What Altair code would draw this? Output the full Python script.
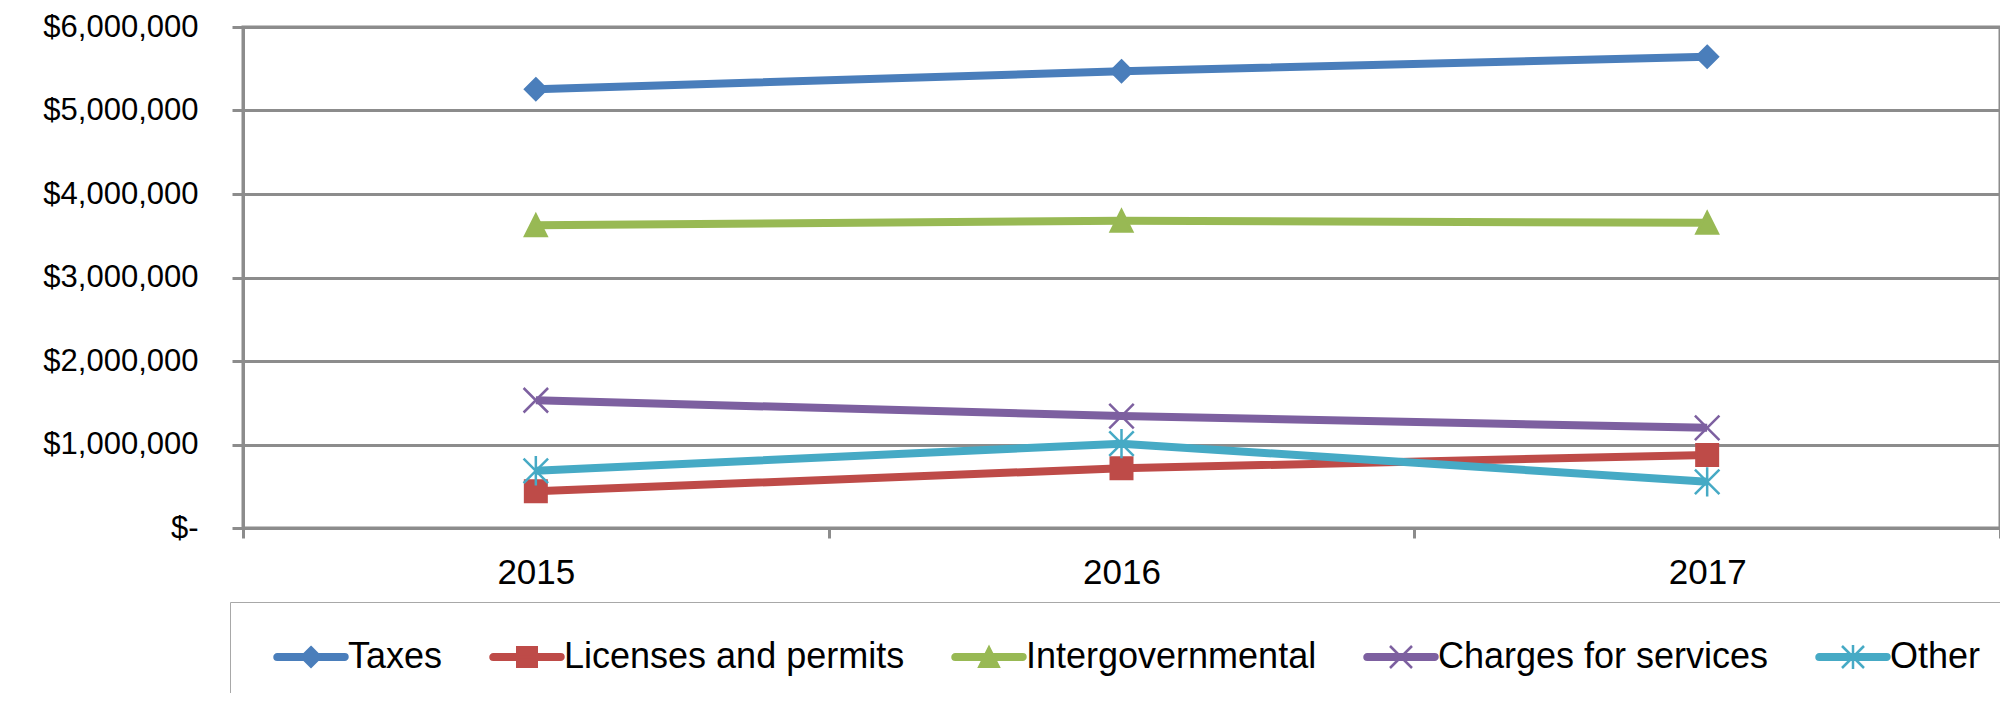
import altair as alt
import pandas as pd

# ---- data ----
years = ["2015", "2016", "2017"]
series = ["Taxes", "Licenses and permits", "Intergovernmental",
          "Charges for services", "Other"]
taxes = [5255000, 5470000, 5645000]
licenses = [440000, 715000, 875000]
intergov = [3625000, 3680000, 3655000]
charges = [1530000, 1340000, 1200000]
other = [685000, 1010000, 553000]
y_ticks = [0, 1000000, 2000000, 3000000, 4000000, 5000000, 6000000]

colors = ["#4A7EBB", "#BE4B48", "#98B954", "#7D60A0", "#46AAC5"]
GRID = "#8c8c8c"
FONT = "Liberation Sans"

values = [taxes, licenses, intergov, charges, other]
rows = []
for s, vals in zip(series, values):
    for y, v in zip(years, vals):
        rows.append({"year": y, "series": s, "value": v})
df = pd.DataFrame(rows)

# ---- marker shapes (unit square paths) ----
marker_paths = [
    "M0,-1L1,0L0,1L-1,0Z",                      # diamond
    "M-1,-1H1V1H-1Z",                           # square
    "M0,-1L1,1L-1,1Z",                          # triangle
    "M-1,-1L1,1M1,-1L-1,1",                     # x
    "M-1,-1L1,1M1,-1L-1,1M0,-1.2L0,1.2",        # asterisk
]
marker_sizes = [462, 462, 462, 600, 600]

# legend symbols: a rounded line with the marker in its middle
U = 12.0  # px per unit for symbol size 576


def u(px):
    return (px - 12.0) / U


t = 2.75 / U
x0, x1 = u(4.25), u(71.75)
line_p = (f"M{x0:.3f},{-t:.3f}L{x1:.3f},{-t:.3f}"
          f"A{t:.3f},{t:.3f} 0 0 1 {x1:.3f},{t:.3f}"
          f"L{x0:.3f},{t:.3f}A{t:.3f},{t:.3f} 0 0 1 {x0:.3f},{-t:.3f}Z")
cx = u(38)
h = 9.75 / U
hx = 11.0 / U
legend_markers = [
    f"M{cx:.3f},{-h:.3f}L{cx + h:.3f},0L{cx:.3f},{h:.3f}L{cx - h:.3f},0Z",
    f"M{cx - h:.3f},{-h:.3f}H{cx + h:.3f}V{h:.3f}H{cx - h:.3f}Z",
    f"M{cx:.3f},{-h:.3f}L{cx + h:.3f},{h:.3f}L{cx - h:.3f},{h:.3f}Z",
    f"M{cx - hx:.3f},{-hx:.3f}L{cx + hx:.3f},{hx:.3f}M{cx + hx:.3f},{-hx:.3f}L{cx - hx:.3f},{hx:.3f}",
    f"M{cx - hx:.3f},{-hx:.3f}L{cx + hx:.3f},{hx:.3f}M{cx + hx:.3f},{-hx:.3f}L{cx - hx:.3f},{hx:.3f}M{cx:.3f},{-hx * 1.1:.3f}L{cx:.3f},{hx * 1.1:.3f}",
]
legend_paths = [line_p + m for m in legend_markers]

color_scale = alt.Scale(domain=series, range=colors)

x_enc = alt.X(
    "year:O",
    scale=alt.Scale(type="band", paddingInner=0, paddingOuter=0),
    axis=alt.Axis(tickBand="extent", labelAngle=0, labelFontSize=35,
                  labelFont=FONT, labelColor="black", tickSize=10,
                  tickColor=GRID, tickWidth=3, domainColor=GRID,
                  domainWidth=3, grid=False, title=None, labelPadding=17),
)
y_enc = alt.Y(
    "value:Q",
    scale=alt.Scale(domain=[0, 6000000], nice=False),
    axis=alt.Axis(values=y_ticks,
                  labelExpr="datum.value == 0 ? '$-' : '$' + format(datum.value, ',')",
                  labelFontSize=31, labelFont=FONT, labelColor="black",
                  tickSize=11, tickColor=GRID, tickWidth=3,
                  domainColor=GRID, domainWidth=3, gridColor=GRID,
                  gridWidth=3, labelPadding=34, title=None),
)

base = alt.Chart(df)

leg = alt.Legend(
    title=None, orient="none", legendX=-13, legendY=575,
    direction="horizontal", columns=5, padding=37,
    fillColor="white", strokeColor="#a8a8a8",
    labelFontSize=36, labelFont=FONT, labelColor="black",
    labelOffset=45, columnPadding=40, symbolSize=576,
    symbolStrokeWidth=2.5, symbolOpacity=1, labelLimit=600,
)

# first layer: carries the legend only (its own marks have zero size)
legend_layer = base.mark_point(filled=True, size=0, strokeWidth=2.5).encode(
    x=x_enc, y=y_enc,
    color=alt.Color("series:N", scale=color_scale, legend=leg),
    stroke=alt.Stroke("series:N", scale=color_scale, legend=leg),
    shape=alt.Shape("series:N", scale=alt.Scale(domain=series, range=legend_paths),
                    legend=leg),
)

lines = base.mark_line(strokeWidth=8).encode(
    x=x_enc, y=y_enc,
    color=alt.Color("series:N", scale=color_scale, legend=None),
)

point_layers = []
for s, p, sz in zip(series, marker_paths, marker_sizes):
    point_layers.append(
        base.transform_filter(alt.datum.series == s)
        .mark_point(shape=p, filled=True, size=sz, strokeWidth=2.5, opacity=1)
        .encode(
            x=x_enc, y=y_enc,
            color=alt.Color("series:N", scale=color_scale, legend=None),
            stroke=alt.Stroke("series:N", scale=color_scale, legend=None),
        )
    )

chart = alt.layer(legend_layer, lines, *point_layers).properties(
    width=1757, height=501,
    autosize=alt.AutoSizeParams(type="none"),
    padding={"left": 235, "top": 19, "right": 0, "bottom": 165},
    background="white",
).configure_view(stroke=GRID, strokeWidth=3)

chart.save("out.html", embed_options={"renderer": "svg", "actions": False})
